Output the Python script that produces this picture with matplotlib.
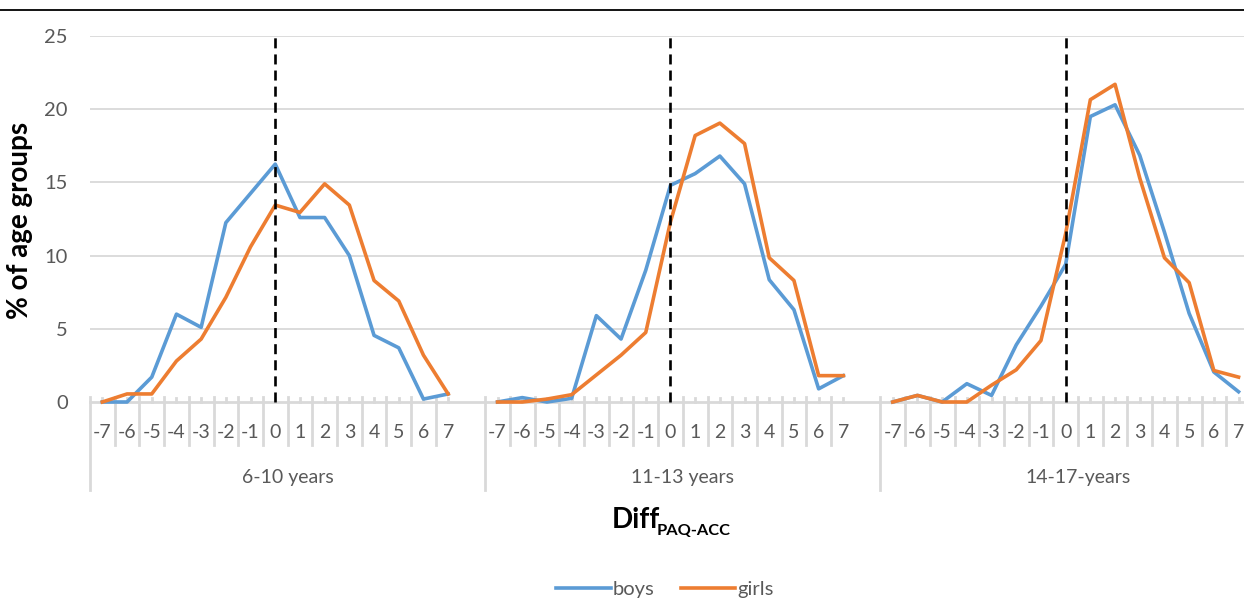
import matplotlib
matplotlib.use('Agg')
import matplotlib.pyplot as plt
from matplotlib.lines import Line2D
import numpy as np

plt.rcParams['font.family'] = ['Lato', 'DejaVu Sans']

diffs = list(range(-7, 8))
groups = ['6-10 years', '11-13 years', '14-17-years']

boys_6_10 = [0, 0, 1.7, 6.0, 5.1, 12.25, 14.25, 16.25, 12.6, 12.6, 10.0, 4.55, 3.7, 0.2, 0.55]
girls_6_10 = [0, 0.55, 0.55, 2.8, 4.3, 7.15, 10.6, 13.45, 12.95, 14.9, 13.45, 8.3, 6.9, 3.2, 0.55]
boys_11_13 = [0, 0.3, 0, 0.25, 5.9, 4.3, 9.0, 14.8, 15.6, 16.8, 14.9, 8.35, 6.3, 0.9, 1.8]
girls_11_13 = [0, 0, 0.2, 0.5, 1.85, 3.2, 4.75, 12.3, 18.2, 19.05, 17.65, 9.85, 8.3, 1.8, 1.8]
boys_14_17 = [0, 0.45, 0, 1.25, 0.45, 3.9, 6.55, 9.4, 19.5, 20.3, 16.85, 11.6, 6.05, 2.05, 0.7]
girls_14_17 = [0, 0.45, 0, 0, 1.15, 2.2, 4.2, 11.5, 20.65, 21.7, 15.3, 9.85, 8.15, 2.15, 1.7]

boys = [boys_6_10, boys_11_13, boys_14_17]
girls = [girls_6_10, girls_11_13, girls_14_17]

BLUE = '#5B9BD5'
ORANGE = '#ED7D31'
GRID = '#D9D9D9'
TXT = '#595959'

W, H = 1244, 599
fig = plt.figure(figsize=(W / 100, H / 100), dpi=100)
ax = fig.add_axes([90 / W, 1 - 402 / H, 1 - 90 / W, 366 / H])

slot = len(diffs) + 1  # one empty category after each group
ax.set_xlim(-0.5, -0.5 + (W - 90) / 24.7)
ax.set_ylim(0, 25)
for s in ax.spines.values():
    s.set_visible(False)
ax.set_xticks([])
ax.set_yticks([0, 5, 10, 15, 20, 25])
ax.tick_params(axis='y', length=0, pad=16, labelsize=14.5, labelcolor=TXT)

for v in [5, 10, 15, 20, 25]:
    ax.axhline(v, color=GRID, lw=1.3, zorder=0)
ax.axhline(0, color=GRID, lw=2, zorder=1, clip_on=False)

xt = ax.get_xaxis_transform()
for g, name in enumerate(groups):
    x = np.arange(len(diffs)) + g * slot
    ax.plot(x, boys[g], color=BLUE, lw=2.6, zorder=3, clip_on=False)
    ax.plot(x, girls[g], color=ORANGE, lw=2.6, zorder=4, clip_on=False)
    x0 = g * slot + diffs.index(0)
    ax.plot([x0, x0], [0, 25], color='black', lw=1.9, dashes=(3.8, 2.3), zorder=5, clip_on=False)
    for xi, d in zip(x, diffs):
        ax.text(xi, -30 / 366, str(d), transform=xt, ha='center', va='center',
                fontsize=14, color=TXT)
        ax.plot([xi, xi], [0, 4 / 366], transform=xt, color=GRID, lw=2, clip_on=False)
    for b in np.arange(len(diffs) - 1) + g * slot + 0.5:
        ax.plot([b, b], [-43 / 366, 5 / 366], transform=xt, color=GRID, lw=2, clip_on=False)
    # group separators
    gb = g * slot - 0.5
    ax.plot([gb, gb], [-88 / 366, 5 / 366], transform=xt, color=GRID, lw=2, clip_on=False)
    ax.text(g * slot + len(diffs) / 2, -75 / 366, name, transform=xt,
            ha='center', va='center', fontsize=14, color=TXT)

fig.text(20 / W, 1 - 220 / H, '% of age groups', rotation=90, ha='center', va='center',
         fontsize=20, fontweight='bold', color='black')
fig.text(612 / W, 1 - 528 / H, 'Diff', ha='left', va='baseline',
         fontsize=20, fontweight='bold', color='black')
fig.text(657 / W, 1 - 535 / H, 'PAQ-ACC', ha='left', va='baseline',
         fontsize=11.8, fontweight='bold', color='black')

fig.legend(handles=[Line2D([], [], color=BLUE, lw=2.6), Line2D([], [], color=ORANGE, lw=2.6)],
           labels=['boys', 'girls'], loc='center', bbox_to_anchor=(665 / W, 1 - 589 / H),
           ncol=2, frameon=False, fontsize=14.5, handlelength=2.7, handletextpad=0.1,
           columnspacing=1.3, labelcolor=TXT)

fig.add_artist(Line2D([0, 1], [1 - 10 / H, 1 - 10 / H], color='black', lw=1.3))

fig.savefig('out.png', dpi=100)
